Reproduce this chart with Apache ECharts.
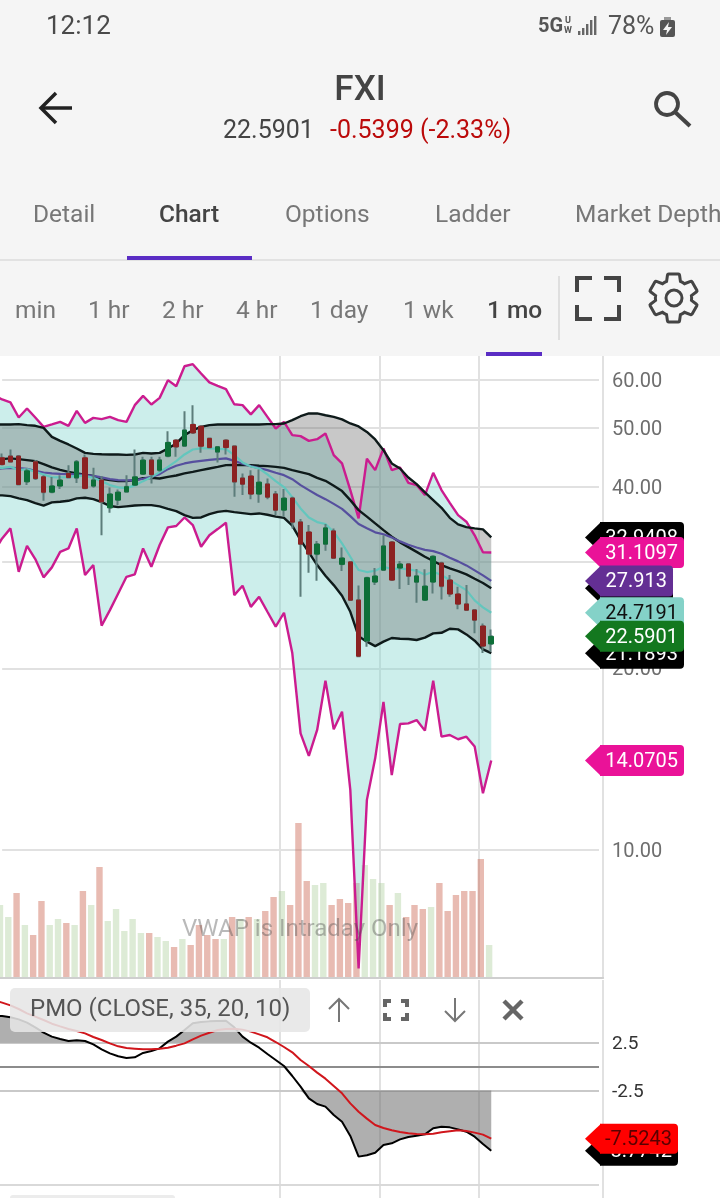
<!DOCTYPE html>
<html><head><meta charset="utf-8">
<style>html,body{margin:0;padding:0;background:#fff}#c{width:720px;height:1198px}</style>
<script src="https://cdn.jsdelivr.net/npm/echarts@6/dist/echarts.min.js"></script>
</head><body><div id="c"></div>
<script>
// ---- candles (one per month)
const opens=[44.63,44.91,44.91,40.73,43.95,41.50,39.15,40.08,42.05,41.35,44.63,40.08,40.99,36.88,37.98,39.20,40.22,41.94,44.24,42.58,44.91,47.74,46.70,50.68,50.35,48.05,45.65,47.74,46.65,41.30,41.63,38.87,40.37,38.87,36.56,38.27,34.93,33.63,30.91,32.12,33.76,29.73,30.00,25.94,22.20,27.79,29.09,32.37,29.32,29.76,27.79,25.94,27.79,29.88,28.00,26.55,25.55,24.97,23.50,21.95];
const closes=[43.52,43.95,40.32,42.47,41.25,39.15,40.08,40.99,41.41,43.95,39.72,40.99,37.74,38.87,39.15,39.97,41.50,44.24,41.89,44.24,47.32,46.53,49.59,49.08,46.65,46.42,46.53,46.42,40.73,40.37,38.87,40.67,38.42,36.56,38.27,34.93,32.12,30.91,32.12,34.15,30.45,30.45,25.94,20.95,28.25,28.43,31.87,28.00,29.76,28.43,28.43,27.36,30.65,27.36,26.55,25.55,24.97,24.04,21.77,22.5901];
const lows=[43.40,43.85,40.22,40.22,40.99,37.88,39.05,39.61,41.25,40.56,39.61,39.82,33.21,36.19,37.26,39.20,40.12,41.89,40.47,42.31,44.80,44.80,46.53,48.98,45.48,46.25,43.85,45.20,38.46,38.72,38.12,37.59,38.12,35.87,35.66,34.10,26.27,28.78,27.93,31.31,30.34,28.98,25.84,20.95,21.72,27.47,29.01,27.93,27.05,27.47,25.67,25.94,26.61,26.01,26.27,25.04,24.97,22.85,21.20,21.30];
const highs=[45.38,46.07,45.09,42.85,44.24,41.77,41.50,41.77,43.40,44.24,45.20,42.95,41.63,39.87,39.56,41.77,46.07,44.80,44.80,44.80,49.40,47.92,53.32,54.55,50.55,48.16,46.70,47.74,46.65,42.05,42.58,42.69,41.25,39.31,39.61,38.46,35.33,34.54,32.49,34.67,34.10,31.71,30.00,27.43,28.25,29.32,33.21,32.49,30.11,29.85,29.20,29.17,30.65,30.03,28.54,27.29,27.47,24.97,23.73,23.20];
// ---- overlays: first value belongs to the month just off the left edge
const bbUpper=[50.68,50.68,50.68,50.74,50.55,50.42,50.03,48.35,47.61,46.96,46.25,45.48,45.31,45.25,45.20,45.20,45.13,45.20,45.48,45.38,45.48,46.25,47.14,48.66,49.59,50.21,50.55,50.68,50.68,50.68,50.68,50.68,50.68,50.74,50.74,50.87,51.52,52.30,52.86,52.86,52.50,52.18,51.66,50.87,50.29,49.26,47.87,45.95,43.68,42.85,41.41,40.37,39.12,37.98,36.88,35.50,34.62,34.27,34.10,33.97,32.9408];
const bbMid=[44.41,44.41,44.53,44.41,44.24,44.07,43.57,43.02,42.63,42.31,42.05,41.83,41.63,41.20,40.99,40.83,40.83,40.99,41.30,41.35,41.25,41.50,41.72,42.05,42.31,42.58,42.85,43.12,43.40,43.45,43.40,43.40,43.29,43.23,43.12,42.95,42.58,42.26,41.94,41.35,40.88,40.12,39.31,37.98,36.56,35.66,34.75,33.88,33.04,32.33,31.75,31.18,30.60,30.11,29.65,29.28,28.98,28.62,28.14,27.69,27.13];
const bbLower=[38.67,38.67,38.56,38.23,37.98,37.55,37.20,37.65,37.74,37.88,38.23,38.32,38.12,37.69,37.14,36.98,37.09,37.20,37.26,37.26,37.09,36.74,36.42,35.87,35.50,35.55,36.00,36.32,36.46,36.28,36.14,36.00,36.10,35.92,35.66,35.50,34.45,32.61,31.12,29.65,28.47,27.47,26.37,24.81,22.60,22.14,21.77,22.14,22.45,22.39,22.36,22.28,22.48,22.85,22.90,23.26,23.20,22.76,22.22,21.50,21.1893];
const purpleAvg=[42.80,42.85,42.95,42.90,42.80,42.47,42.20,42.05,41.99,41.94,41.89,41.77,41.66,41.41,41.14,40.99,40.94,40.94,41.20,41.50,41.94,42.74,43.29,43.68,43.95,44.12,44.29,44.41,44.53,44.12,43.62,43.23,42.90,42.58,42.15,41.77,41.14,40.22,39.46,38.72,38.12,37.44,36.74,35.73,34.67,34.11,33.59,33.34,32.95,32.45,32.03,31.71,31.42,31.27,30.95,30.48,30.07,29.61,29.06,28.51,27.913];
const tealAvg=[42.95,42.95,43.12,42.58,42.74,42.31,41.89,41.46,41.41,41.46,41.66,41.66,41.35,40.83,40.22,39.87,39.76,40.17,40.83,41.46,42.26,43.12,44.07,45.20,46.07,46.25,46.25,46.18,46.12,45.09,43.85,43.18,42.85,41.89,40.83,39.92,38.42,36.80,35.55,34.93,34.67,33.63,32.21,30.60,29.09,28.87,29.01,29.46,29.20,29.28,29.17,29.01,28.57,28.90,28.54,28.00,27.47,26.95,25.91,25.23,24.7191];
const pinkUpper=[56.67,55.75,55.12,52.05,53.87,52.05,50.21,50.68,51.19,50.42,53.38,50.99,51.97,51.72,52.18,51.52,51.19,54.55,56.51,54.69,56.09,60.01,58.63,63.28,63.78,61.56,59.49,58.70,57.98,54.75,54.55,52.66,54.55,52.18,49.91,51.19,48.66,48.47,47.61,47.92,48.98,45.09,43.68,39.46,35.42,44.47,42.58,46.25,42.58,43.02,40.56,40.22,38.72,42.15,39.46,37.59,35.87,34.98,33.21,31.14,31.1097];
const pinkLower=[31.18,32.82,34.10,28.90,31.91,30.34,28.29,29.39,31.18,31.59,34.10,28.54,29.65,23.53,24.97,26.61,28.35,28.62,31.59,29.46,32.00,34.23,34.41,35.55,34.54,31.79,33.21,34.01,34.85,26.44,27.40,25.28,26.27,24.81,23.44,24.72,21.20,15.61,14.32,15.81,19.08,15.85,16.95,12.58,6.37,12.11,14.19,17.60,13.31,16.17,16.21,16.42,15.77,19.08,15.41,15.51,15.26,15.41,14.84,12.42,14.0705];
// ---- volume
const volume=[36,30,42,26,21,38,26,29,27,26,43,36,55,28,34,23,29,22,22,20,18,15,19,16,26,21,19,19,30,29,30,29,33,40,43,36,77,48,46,47,36,39,37,47,56,49,47,36,42,30,36,34,35,47,33,41,43,43,59,16];
const volumeUp=[1,1,0,1,0,0,1,1,0,1,0,1,0,1,1,1,1,1,0,1,1,0,1,0,0,0,0,1,0,1,0,1,0,0,1,0,0,0,1,1,0,0,0,0,1,1,1,0,1,0,0,0,1,0,0,0,0,0,0,1];
// ---- PMO panel
const pmoLine=[5.30,5.26,5.12,4.91,4.57,4.08,3.52,3.11,2.86,2.66,2.73,2.66,2.31,1.79,1.37,1.06,0.89,0.95,1.41,1.61,1.89,2.59,3.11,3.80,4.50,4.63,4.70,4.74,4.77,4.08,3.11,2.48,1.96,1.30,0.68,0.05,-0.99,-2.10,-3.32,-3.91,-4.18,-5.05,-5.75,-7.24,-9.39,-9.25,-8.98,-8.18,-8.00,-7.59,-7.34,-7.21,-7.07,-6.44,-6.27,-6.34,-6.55,-6.79,-7.31,-8.07,-8.7742];
const pmoSignal=[6.90,6.65,6.37,5.99,5.54,5.19,4.84,4.46,4.18,3.91,3.70,3.45,3.07,2.76,2.41,2.10,1.93,1.86,1.79,1.79,1.86,1.96,2.17,2.41,2.83,3.21,3.52,3.80,3.91,3.94,3.84,3.63,3.35,3.04,2.55,2.03,1.48,0.68,0.05,-0.64,-1.27,-2.03,-2.80,-3.84,-4.71,-5.43,-6.09,-6.41,-6.65,-6.82,-6.96,-7.03,-7.07,-7.00,-6.86,-6.75,-6.65,-6.72,-6.89,-7.10,-7.5243];
// ---- axis ticks and month boundaries
const priceTicks=[60,50,40,30,20,10];
const pmoTicks=[2.5,-2.5];
const monthBreaks=[11,35,47,59];
const BAND_COUNT=74;
const categories=Array.from({length:BAND_COUNT},(_,i)=>'M'+i);

const FONT='Roboto';
const PINK='#cb1c8f',BLACK='#0e1a1a',PURPLE='#564f9e',TEAL='#63c6bd';
const last=a=>a[a.length-1];
const GEAR='M19.14,12.94c0.04-0.3,0.06-0.61,0.06-0.94c0-0.32-0.02-0.64-0.07-0.94l2.03-1.58c0.18-0.14,0.23-0.41,0.12-0.61l-1.92-3.32c-0.12-0.22-0.37-0.29-0.59-0.22l-2.39,0.96c-0.5-0.38-1.03-0.7-1.62-0.94L14.4,2.81c-0.04-0.24-0.24-0.41-0.48-0.41h-3.84c-0.24,0-0.43,0.17-0.47,0.41L9.25,5.35C8.66,5.59,8.12,5.92,7.63,6.29L5.24,5.33c-0.22-0.08-0.47,0-0.59,0.22L2.74,8.87C2.62,9.08,2.66,9.34,2.86,9.48l2.03,1.58C4.84,11.36,4.8,11.69,4.8,12s0.02,0.64,0.07,0.94l-2.03,1.58c-0.18,0.14-0.23,0.41-0.12,0.61l1.92,3.32c0.12,0.22,0.37,0.29,0.59,0.22l2.39-0.96c0.5,0.38,1.03,0.7,1.62,0.94l0.36,2.54c0.05,0.24,0.24,0.41,0.48,0.41h3.84c0.24,0,0.44-0.17,0.47-0.41l0.36-2.54c0.59-0.24,1.13-0.56,1.62-0.94l2.39,0.96c0.22,0.08,0.47,0,0.59-0.22l1.92-3.32c0.12-0.22,0.07-0.47-0.12-0.61L19.14,12.94z';

const chart=echarts.init(document.getElementById('c'),null,{renderer:'canvas'});

function fillBetween(a,b,xi,yi,color,z){
  return {type:'custom',xAxisIndex:xi,yAxisIndex:yi,z,silent:true,clip:true,
    data:[[0,a[0]]],
    renderItem(p,api){
      const pts=[];
      a.forEach((v,i)=>pts.push(api.coord([i,v])));
      for(let i=b.length-1;i>=0;i--)pts.push(api.coord([i,b[i]]));
      return {type:'polygon',shape:{points:pts},style:{fill:color}};
    }};
}
function line(name,data,color,xi,yi,z,w){
  return {name,type:'line',xAxisIndex:xi,yAxisIndex:yi,data,z,symbol:'none',silent:true,
    lineStyle:{color,width:w||2},itemStyle:{color}};
}
function tags(list,xi,yi,h,z){
  return {type:'custom',xAxisIndex:xi,yAxisIndex:yi,z,silent:true,clip:false,
    data:list.map(t=>[0,t.v]),
    renderItem(p,api){
      const t=list[p.dataIndex];
      const y=api.coord([0,api.value(1)])[1];
      return {type:'group',children:[
        {type:'polygon',shape:{points:[[585,y],[601,y-h],[601,y+h]]},style:{fill:t.bg}},
        {type:'rect',shape:{x:600,y:y-h,width:t.r-600,height:2*h,r:[0,4,4,0]},style:{fill:t.bg}},
        {type:'text',style:{text:String(t.v),x:t.r-6,y:y+1.5,align:'right',verticalAlign:'middle',fill:t.fg,font:'20px '+FONT}}
      ]};
    }};
}
const gridLineColor='#e1e1e1';
const priceMarks=priceTicks.map(v=>[
  {xAxis:1,yAxis:v,name:v.toFixed(2)},{xAxis:BAND_COUNT-1,yAxis:v}]);
const pmoMarks=pmoTicks.map(v=>[
  {xAxis:0,yAxis:v,name:String(v),lineStyle:{color:'#c9c9c9',width:2}},{xAxis:BAND_COUNT-1,yAxis:v}]);

const g=[];
function T(text,x,y,size,fill,weight,align){g.push({type:'text',silent:true,z:50,style:{text,x,y:y+2,fill,font:(weight||400)+' '+size+'px '+FONT,align:align||'left',verticalAlign:'middle'}});}
function R(x,y,w,h,fill,r,z){g.push({type:'rect',silent:true,z:z||49,shape:{x,y,width:w,height:h,r:r||0},style:{fill}});}
function L(pts,stroke,lw,cap){g.push({type:'polyline',silent:true,z:52,shape:{points:pts},style:{stroke,lineWidth:lw,fill:null,lineCap:cap||'butt',lineJoin:'miter'}});}
// page chrome
R(0,0,720,356,'#f5f5f5',0,1);
T('12:12',46,25.5,26,'#4a4a4a');
T('5G',538,25,20,'#555',700);
T('U',565,19,9,'#555',700);T('W',564,29,9,'#555',700);
[[578,4],[582,7],[586,11],[590,15],[594,19]].forEach(b=>R(b[0],35-b[1],2.4,b[1],'#666',0,51));
T('78%',608,25.5,25,'#555');
R(660,20,15,17,'#555',2,51);R(664,17,7,3,'#999',0,51);
g.push({type:'polygon',silent:true,z:52,shape:{points:[[669,22],[663,30],[667,30],[666,35],[672,27],[668,27]]},style:{fill:'#f5f5f5'}});
L([[72,108],[41,108]],'#222',3.5);L([[56,93],[41,108],[56,123]],'#222',3.5);
T('FXI',360,89,35,'#444',500,'center');
T('22.5901',223,130,25,'#444');
T('-0.5399 (-2.33%)',330,130,25,'#bb0a0a');
g.push({type:'circle',silent:true,z:52,shape:{cx:667,cy:104,r:11},style:{fill:null,stroke:'#444',lineWidth:3.8}});
L([[675,112],[690,126]],'#444',4);
T('Detail',33,214,24.5,'#777');
T('Chart',159,214,24.5,'#444',500);
T('Options',285,214,24.5,'#777');
T('Ladder',435,214,24.5,'#777');
T('Market Depth',575,214,24.5,'#777');
R(0,259,720,2,'#e2e2e2',0,50);
R(127,256,125,4,'#5a2dc4',0,51);
T('min',15,310,24.5,'#777');
T('1 hr',88,310,24.5,'#777');
T('2 hr',162,310,24.5,'#777');
T('4 hr',236,310,24.5,'#777');
T('1 day',310,310,24.5,'#777');
T('1 wk',403,310,24.5,'#777');
T('1 mo',487,310,24.5,'#444',500);
R(486,352,56,4,'#5a2dc4',0,51);
R(558,276,2,64,'#dfdfdf',0,50);
L([[577,292],[577,278],[592,278]],'#444',4);L([[604,278],[619,278],[619,292]],'#444',4);
L([[577,305],[577,319],[592,319]],'#444',4);L([[604,319],[619,319],[619,305]],'#444',4);
g.push({type:'circle',silent:true,z:52,shape:{cx:674,cy:298,r:8},style:{fill:null,stroke:'#444',lineWidth:3}});
// watermark
T('VWAP is Intraday Only',300,928,24,'rgba(70,70,70,0.38)',400,'center');
// PMO tab
R(10,988,300,44,'rgba(230,230,230,0.88)',5,40);
T('PMO (CLOSE, 35, 20, 10)',30,1008,24,'#555');
L([[339,1022],[339,999]],'#777',2);L([[329,1009],[339,999],[349,1009]],'#777',2);
L([[385,1007],[385,1001],[391,1001]],'#666',4);L([[401,1001],[407,1001],[407,1007]],'#666',4);
L([[385,1013],[385,1019],[391,1019]],'#666',4);L([[401,1019],[407,1019],[407,1013]],'#666',4);
L([[455,998],[455,1021]],'#777',2);L([[445,1011],[455,1021],[465,1011]],'#777',2);
L([[504,1001],[522,1019]],'#666',4.5);L([[522,1001],[504,1019]],'#666',4.5);
R(10,1195,165,6,'#ececec',3,40);

const xBase={type:'category',data:categories,axisLabel:{show:false},axisTick:{show:false}};
const option={
  animation:false,
  backgroundColor:'#fff',
  textStyle:{fontFamily:FONT},
  grid:[
    {left:-10.3,top:356,width:613.46,height:622,outerBoundsMode:'none'},
    {left:-4.15,top:820,width:613.46,height:157,outerBoundsMode:'none'},
    {left:-10.3,top:980,width:613.46,height:218,outerBoundsMode:'none'}
  ],
  xAxis:[
    Object.assign({},xBase,{gridIndex:0,axisLine:{lineStyle:{color:'#cfcfcf',width:2}},
      splitLine:{show:true,showMinLine:false,lineStyle:{color:gridLineColor,width:2},interval:(i)=>monthBreaks.includes(i)}}),
    Object.assign({},xBase,{gridIndex:1,show:false}),
    Object.assign({},xBase,{gridIndex:2,axisLine:{show:false},
      splitLine:{show:true,showMinLine:false,lineStyle:{color:gridLineColor,width:2},interval:(i)=>monthBreaks.includes(i)}})
  ],
  yAxis:[
    {type:'log',gridIndex:0,min:6.14,max:65.8,show:false},
    {type:'value',gridIndex:1,min:0,max:78.5,show:false},
    {type:'value',gridIndex:2,min:-13.70,max:9.01,show:false}
  ],
  series:[
    {name:'PriceGrid',type:'line',xAxisIndex:0,yAxisIndex:0,data:[],z:1,silent:true,
     markLine:{silent:true,symbol:'none',animation:false,z:1,data:priceMarks,
       lineStyle:{color:gridLineColor,width:2,type:'solid'},
       label:{show:true,position:'end',formatter:'{b}',distance:13,offset:[0,2],color:'#6e6e6e',fontSize:20,fontFamily:FONT}}},
    {name:'Volume',type:'bar',xAxisIndex:1,yAxisIndex:1,z:2,barWidth:6.4,silent:true,
     data:volume.map((v,i)=>({value:v,itemStyle:{color:volumeUp[i]?'rgba(160,200,140,0.36)':'rgba(205,105,85,0.45)'}}))},
    fillBetween(pinkUpper,pinkLower,0,0,'rgba(128,212,204,0.40)',3),
    fillBetween(bbUpper,bbLower,0,0,'rgba(95,95,95,0.34)',4),
    line('Pink upper',pinkUpper,PINK,0,0,6,2.4),
    line('Pink lower',pinkLower,PINK,0,0,6,2.4),
    line('BB upper',bbUpper,BLACK,0,0,7,2.4),
    line('BB mid',bbMid,BLACK,0,0,7,2.4),
    line('BB lower',bbLower,BLACK,0,0,7,2.4),
    line('Purple',purpleAvg,PURPLE,0,0,8,2.2),
    line('Teal',tealAvg,TEAL,0,0,8,2.2),
    {name:'Wicks',type:'candlestick',xAxisIndex:0,yAxisIndex:0,z:9,barWidth:2,silent:true,
     encode:{x:0,y:[1,2,3,4]},
     data:opens.map((o,i)=>[i+1,o,closes[i],lows[i],highs[i]]),
     itemStyle:{color:'#5c7d7b',color0:'#5c7d7b',borderColor:'#5c7d7b',borderColor0:'#5c7d7b',borderWidth:2}},
    {name:'Price',type:'candlestick',xAxisIndex:0,yAxisIndex:0,z:10,barWidth:5,silent:true,
     encode:{x:0,y:[1,2,3,4]},
     data:opens.map((o,i)=>[i+1,o,closes[i],Math.min(o,closes[i]),Math.max(o,closes[i])]),
     itemStyle:{color:'#0d6f38',color0:'#8c2222',borderColor:'#0d6f38',borderColor0:'#8c2222',borderWidth:1}},
    tags([
      {v:last(bbUpper),bg:'#000',fg:'#fff',r:684},
      {v:last(bbMid),bg:'#000',fg:'#fff',r:673},
      {v:last(bbLower),bg:'#000',fg:'#fff',r:684},
      {v:last(pinkUpper),bg:'#ea1298',fg:'#fff',r:684},
      {v:last(pinkLower),bg:'#ea1298',fg:'#fff',r:684},
      {v:last(purpleAvg),bg:'#642f94',fg:'#fff',r:673},
      {v:last(tealAvg),bg:'#84d2c8',fg:'#111',r:684},
      {v:last(closes),bg:'#13781f',fg:'#fff',r:684}
    ],0,0,15.5,20),
    // PMO panel
    {name:'PmoGrid',type:'line',xAxisIndex:2,yAxisIndex:2,data:[],z:1,silent:true,
     markLine:{silent:true,symbol:'none',animation:false,z:1,
       data:[[{xAxis:0,yAxis:0,name:'',lineStyle:{color:'#8c8c8c',width:2,type:'solid'}},{xAxis:BAND_COUNT-1,yAxis:0}],
             [{xAxis:0,yAxis:-12.34,name:'',lineStyle:{color:'#d9d9d9',width:2,type:'solid'}},{xAxis:BAND_COUNT-1,yAxis:-12.34}]].concat(pmoMarks),
       lineStyle:{type:'solid',width:2,color:'#c9c9c9'},
       label:{show:true,position:'end',formatter:'{b}',distance:13,offset:[0,2],color:'#333',fontSize:19,fontFamily:FONT}}},
    fillBetween(pmoLine.map(v=>Math.max(v,pmoTicks[0])),pmoLine.map(()=>pmoTicks[0]),2,2,'rgba(110,110,110,0.55)',3),
    fillBetween(pmoLine.map(()=>pmoTicks[1]),pmoLine.map(v=>Math.min(v,pmoTicks[1])),2,2,'rgba(110,110,110,0.55)',3),
    line('PMO',pmoLine,'#000',2,2,6),
    line('PMO signal',pmoSignal,'#d0161c',2,2,7),
    tags([
      {v:last(pmoLine),bg:'#000',fg:'#fff',r:678},
      {v:last(pmoSignal),bg:'#ff0000',fg:'#5a0000',r:678}
    ],2,2,15,21),
    {type:'custom',coordinateSystem:'none',silent:true,z:60,data:[[0]],
     renderItem(){return {type:'path',shape:{pathData:GEAR,x:650,y:274,width:47,height:48,layout:'cover'},
       style:{fill:'none',stroke:'#444',lineWidth:3}};}}
  ],
  graphic:{elements:g}
};
chart.setOption(option);
</script></body></html>
